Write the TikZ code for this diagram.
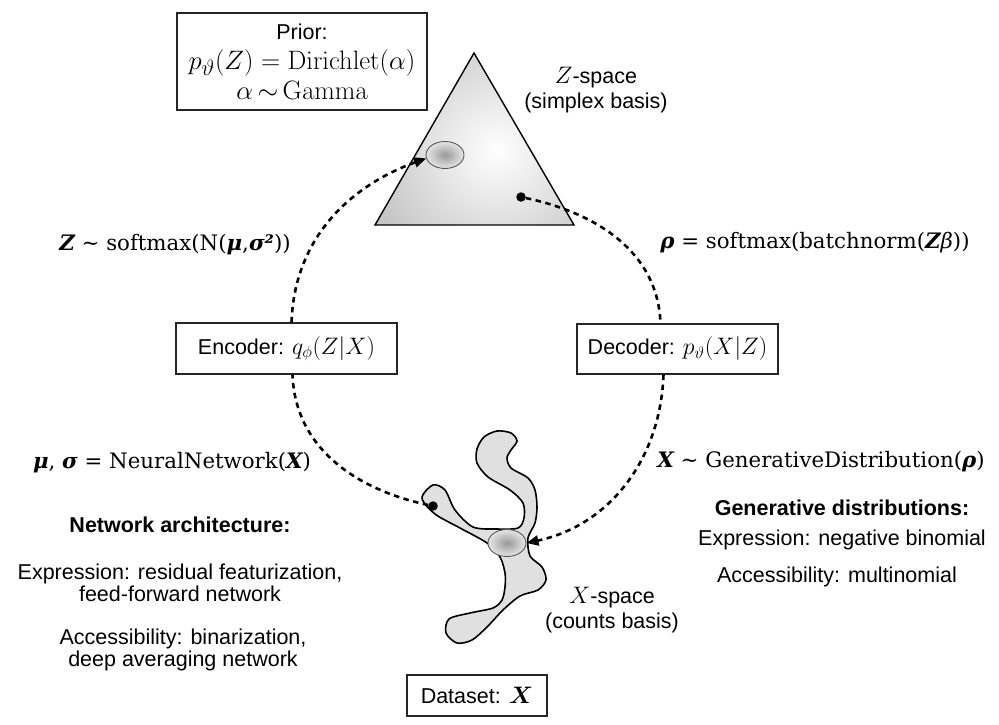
\documentclass[tikz,border=0pt]{standalone}
\usepackage[no-math]{fontspec}
\setmainfont{Liberation Sans}
\newfontfamily\dvs{DejaVu Serif}
\usepackage{bm}
\usetikzlibrary{shapes.geometric,arrows.meta}
\newcommand{\bib}[1]{{\bfseries\itshape #1}}
\newcommand{\mbig}[1]{\scalebox{1.07}{\fontsize{24.88}{28}\selectfont$#1$}}
\newcommand{\mmid}[1]{\scalebox{1.15}{\fontsize{20.74}{25}\selectfont$#1$}}
\begin{document}
\begin{tikzpicture}[x=1pt,y=1pt,
  box/.style={draw=black!85, line width=1.2pt, fill=white, inner sep=0pt, align=center,
    font=\fontsize{21.5}{30}\selectfont},
  lbl/.style={font=\fontsize{21.5}{21.5}\selectfont, align=center, inner sep=0pt},
  hdr/.style={font=\fontsize{21.5}{21.5}\selectfont\bfseries, inner sep=0pt},
  ser/.style={font=\dvs\fontsize{21.3}{24}\selectfont, inner sep=0pt},
  flow/.style={line width=2.6pt, dash pattern=on 5.5pt off 4.5pt},
  tip/.style={-{Triangle[length=12pt,width=10pt]}},
  spot/.style={ellipse, draw=black!65, line width=0.9pt, shade, inner color=black!40, outer color=black!10,
    minimum width=38pt, minimum height=27pt, inner sep=0pt},
  dot/.style={circle, fill=black, minimum size=9.5pt, inner sep=0pt}]
\useasboundingbox (0,0) rectangle (999,-724);

% ---- Z-space triangle
\coordinate (tA) at (474,-53);
\coordinate (tB) at (375,-225);
\coordinate (tC) at (574,-225);
\begin{scope}
  \clip (tA) -- (tB) -- (tC) -- cycle;
  \shade[inner color=white, outer color=black!50] (497,-150) circle (290);
\end{scope}
\draw[line width=1.4pt, line join=miter] (tA) -- (tB) -- (tC) -- cycle;
\node[spot] (zell) at (445,-155) {};
\node[dot] (zdot) at (521,-197) {};
\node[lbl] (zsp) at (596,-90) {\mmid{Z}-space\\[4pt](simplex basis)};

% ---- X-space blob
\draw[line width=1.6pt, fill=black!12] plot[smooth cycle, tension=0.5] coordinates {
 (484,-437) (497,-431) (511,-433) (517,-441) (511,-450) (507,-458) (511,-468) (528,-478) (535,-490) (537,-507) (535,-523) (528,-538)
 (530,-556) (542,-567) (546,-580) (538,-590) (520,-596) (503,-610) (487,-627) (472,-640) (457,-643)
 (446,-633) (449,-619) (470,-613) (493,-608) (502,-600) (505,-587) (505,-573) (500,-557) (487,-543)
 (460,-528) (435,-514) (422,-498) (433,-485) (445,-490) (455,-510) (473,-527) (497,-529) (518,-528)
 (524,-518) (523,-503) (510,-490) (488,-477) (477,-463) (477,-449)};
\node[spot] (xell) at (507,-543) {};
\node[dot] (xdot) at (433,-506) {};
\node[lbl] (xsp) at (612,-610) {\mmid{X}-space\\[4pt](counts basis)};

% ---- boxes
\node[box, minimum width=250pt, minimum height=97pt] (prior) at (302,-61.5)
  {Prior:\\\mbig{p_\vartheta(Z)=\mathrm{Dirichlet}(\alpha)}\\\mbig{\alpha\,{\sim}\,\mathrm{Gamma}}};
\node[box, minimum width=221pt, minimum height=51pt] (enc) at (286.5,-348.5)
  {Encoder: \mmid{q_\phi(Z|X)}};
\node[box, minimum width=201pt, minimum height=50pt] (dec) at (677.5,-349)
  {Decoder: \mmid{p_\vartheta(X|Z)}};
\node[box, minimum width=140pt, minimum height=41pt] (data) at (477,-695.5)
  {Dataset: \mmid{\bm{X}}};

% ---- connectors
\draw[flow, tip] ([xshift=5pt]enc.north) to[out=88, in=200] (zell.190);
\draw[flow] (zdot) to[out=-12, in=92] ([xshift=-17pt]dec.north);
\draw[flow] (xdot) to[out=168, in=-88] ([xshift=6pt]enc.south);
\draw[flow, tip] ([xshift=-14pt]dec.south) to[out=-92, in=12] (xell.east);

% ---- formula labels
\node[ser] (lz) at (175,-245) {\bib{Z} ∼ softmax(N(\bib{μ},\bib{σ²}))};
\node[ser] (lr) at (815,-243) {\bib{ρ} = softmax(batchnorm(\bib{Z}\textit{β}))};
\node[ser] (lm) at (172,-463) {\bib{μ}, \bib{σ} = NeuralNetwork(\bib{X})};
\node[ser] (lx) at (821,-462) {\bib{X} ∼ GenerativeDistribution(\bib{ρ})};

% ---- text blocks
\node[hdr] (nah) at (180,-525) {Network architecture:};
\node[lbl] (nae) at (180,-583) {Expression: residual featurization,\\feed-forward network};
\node[lbl] (naa) at (183,-650) {Accessibility: binarization,\\deep averaging network};
\node[hdr] (gdh) at (842,-508) {Generative distributions:};
\node[lbl] (gde) at (842,-540) {Expression: negative binomial};
\node[lbl] (gda) at (837,-577) {Accessibility: multinomial};
\end{tikzpicture}
\end{document}
